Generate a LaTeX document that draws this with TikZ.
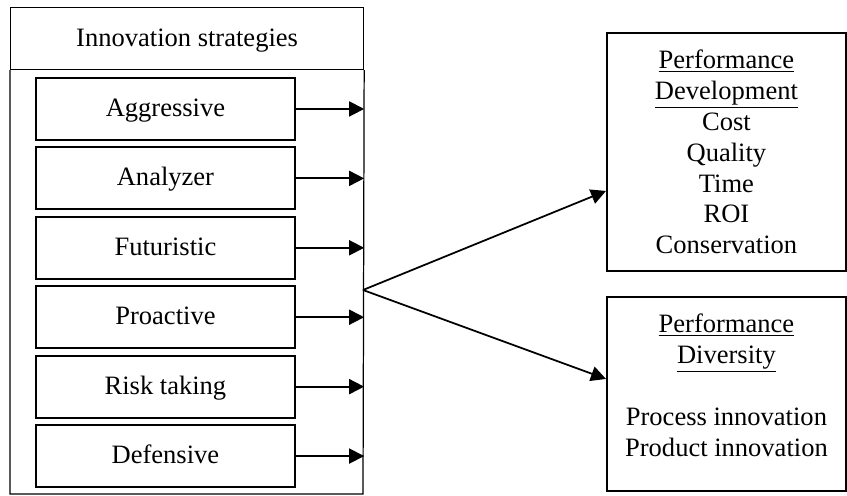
\documentclass[tikz,border=0pt]{standalone}
\usepackage{fontspec}
\setmainfont{Liberation Serif}
\usetikzlibrary{positioning,arrows.meta}

\begin{document}
\begin{tikzpicture}[x=0.02cm, y=-0.02cm, font=\fontsize{15.1}{17.6}\selectfont, node distance=0.11cm,
  >={Triangle[length=0.3cm,width=0.3cm]},
  stratbox/.style={draw, line width=1.1pt, rectangle, minimum width=5.18cm, minimum height=1.24cm, inner sep=0pt, text height=0.95em, text depth=0.1em},
  perfbox/.style={draw, line width=1.1pt, rectangle, minimum width=4.78cm, align=center, inner sep=0pt, anchor=north west}]
  \useasboundingbox (0,0) rectangle (847,496);

  % Header and outer frame
  \node[draw, line width=0.7pt, rectangle, minimum width=7.06cm, minimum height=1.24cm, anchor=north west, inner sep=0pt, text height=0.95em, text depth=0.1em] (title) at (10,7) {Innovation strategies};
  \coordinate (framecorner) at (363,494);
  \draw[line width=0.7pt] (title.south west) -- (title.south west |- framecorner) -- (framecorner) -- (title.south east);

  % Strategy boxes
  \node[stratbox, anchor=north west] (aggressive) at (35,77) {Aggressive};
  \node[stratbox, below=of aggressive] (analyzer) {Analyzer};
  \node[stratbox, below=of analyzer] (futuristic) {Futuristic};
  \node[stratbox, below=of futuristic] (proactive) {Proactive};
  \node[stratbox, below=of proactive] (risk) {Risk taking};
  \node[stratbox, below=of risk] (defensive) {Defensive};

  % Arrows to the frame
  \draw[->, line width=1pt] (aggressive.east) -- (aggressive.east -| title.east);
  \draw[->, line width=1pt] (analyzer.east) -- (analyzer.east -| title.east);
  \draw[->, line width=1pt] (futuristic.east) -- (futuristic.east -| title.east);
  \draw[->, line width=1pt] (proactive.east) -- (proactive.east -| title.east);
  \draw[->, line width=1pt] (risk.east) -- (risk.east -| title.east);
  \draw[->, line width=1pt] (defensive.east) -- (defensive.east -| title.east);

  % Performance boxes
  \node[perfbox, minimum height=4.76cm] (development) at (606,32) {\underline{Performance}\\\underline{Development}\\Cost\\Quality\\Time\\ROI\\Conservation};
  \node[perfbox, minimum height=3.88cm, text depth=0.36cm] (diversity) at (606,296) {\underline{Performance}\\\underline{Diversity}\\[17.6pt]Process innovation\\Product innovation};

  % Fork
  \coordinate (fork) at (363,290);
  \draw[->, line width=1pt] (fork) -- ([yshift=-0.78cm]development.west);
  \draw[->, line width=1pt] (fork) -- ([yshift=0.3cm]diversity.west);
\end{tikzpicture}
\end{document}
